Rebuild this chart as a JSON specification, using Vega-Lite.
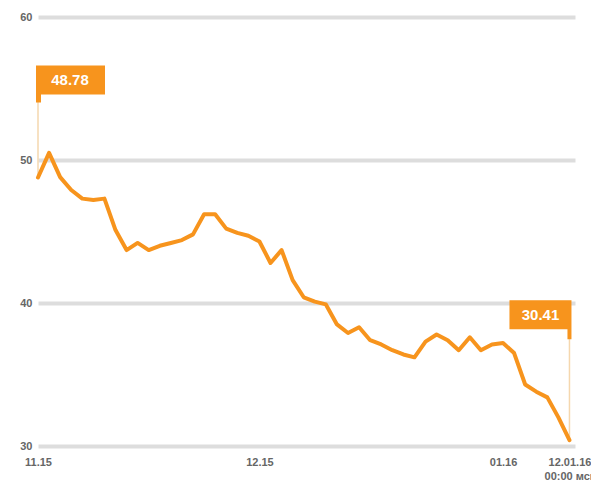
{
  "$schema": "https://vega.github.io/schema/vega-lite/v6.json",
  "width": 537,
  "height": 429,
  "autosize": "none",
  "padding": {"left": 38, "top": 17, "right": 16, "bottom": 46},
  "background": "#ffffff",
  "config": {
    "view": {"stroke": "transparent"},
    "font": "Liberation Sans",
    "axis": {
      "domain": false,
      "ticks": false,
      "labelColor": "#666666",
      "labelFontSize": 11,
      "labelFontWeight": "bold",
      "title": null
    }
  },
  "datasets": {
    "prices": [
      {"i": 0, "v": 48.78}, {"i": 1, "v": 50.5}, {"i": 2, "v": 48.8}, {"i": 3, "v": 47.9},
      {"i": 4, "v": 47.3}, {"i": 5, "v": 47.2}, {"i": 6, "v": 47.3}, {"i": 7, "v": 45.1},
      {"i": 8, "v": 43.7}, {"i": 9, "v": 44.2}, {"i": 10, "v": 43.7}, {"i": 11, "v": 44.0},
      {"i": 12, "v": 44.2}, {"i": 13, "v": 44.4}, {"i": 14, "v": 44.8}, {"i": 15, "v": 46.2},
      {"i": 16, "v": 46.2}, {"i": 17, "v": 45.2}, {"i": 18, "v": 44.9}, {"i": 19, "v": 44.7},
      {"i": 20, "v": 44.3}, {"i": 21, "v": 42.8}, {"i": 22, "v": 43.7}, {"i": 23, "v": 41.6},
      {"i": 24, "v": 40.4}, {"i": 25, "v": 40.1}, {"i": 26, "v": 39.9}, {"i": 27, "v": 38.5},
      {"i": 28, "v": 37.9}, {"i": 29, "v": 38.3}, {"i": 30, "v": 37.4}, {"i": 31, "v": 37.1},
      {"i": 32, "v": 36.7}, {"i": 33, "v": 36.4}, {"i": 34, "v": 36.2}, {"i": 35, "v": 37.3},
      {"i": 36, "v": 37.8}, {"i": 37, "v": 37.4}, {"i": 38, "v": 36.7}, {"i": 39, "v": 37.6},
      {"i": 40, "v": 36.7}, {"i": 41, "v": 37.1}, {"i": 42, "v": 37.2}, {"i": 43, "v": 36.5},
      {"i": 44, "v": 34.3}, {"i": 45, "v": 33.8}, {"i": 46, "v": 33.4}, {"i": 47, "v": 32.0},
      {"i": 48, "v": 30.41}
    ],
    "flags": [
      {"i": 0, "v": 48.78, "label": "48.78", "side": "start"},
      {"i": 48, "v": 30.41, "label": "30.41", "side": "end"}
    ]
  },
  "encoding": {
    "x": {
      "field": "i",
      "type": "quantitative",
      "scale": {"domain": [0, 48.5], "nice": false, "zero": false},
      "axis": {
        "values": [0, 20, 42, 48],
        "grid": false,
        "labelFlush": false,
        "labelOverlap": false,
        "labelBound": false,
        "labelPadding": 10,
        "labelLineHeight": 14,
        "labelExpr": "datum.value == 0 ? '11.15' : datum.value == 20 ? '12.15' : datum.value == 42 ? '01.16' : ['12.01.16', '00:00 мск']"
      }
    },
    "y": {
      "field": "v",
      "type": "quantitative",
      "scale": {"domain": [30, 60], "nice": false, "zero": false},
      "axis": {
        "values": [30, 40, 50, 60],
        "grid": true,
        "gridColor": "#dddddd",
        "gridWidth": 4,
        "labelPadding": 6
      }
    }
  },
  "layer": [
    {
      "data": {"name": "flags"},
      "transform": [{"filter": "datum.side == 'start'"}],
      "mark": {"type": "point", "shape": "M0,0V-8.3", "size": 400, "filled": false, "stroke": "#f5d7ae", "strokeWidth": 1.5, "opacity": 1}
    },
    {
      "data": {"name": "flags"},
      "transform": [{"filter": "datum.side == 'end'"}],
      "mark": {"type": "point", "shape": "M0,0V-10.1", "size": 400, "filled": false, "stroke": "#f5d7ae", "strokeWidth": 1.5, "opacity": 1}
    },
    {
      "data": {"name": "prices"},
      "mark": {"type": "line", "color": "#f7941d", "strokeWidth": 4, "strokeJoin": "round", "strokeCap": "round"}
    },
    {
      "data": {"name": "flags"},
      "transform": [{"filter": "datum.side == 'start'"}],
      "mark": {"type": "point", "shape": "M-0.2,-11.2H6.7V-8.3H0.3V-7.5H-0.2Z", "size": 400, "filled": true, "color": "#f7941d", "opacity": 1}
    },
    {
      "data": {"name": "flags"},
      "transform": [{"filter": "datum.side == 'end'"}],
      "mark": {"type": "point", "shape": "M-6,-14H0.2V-10.1H-0.2V-11.1H-6Z", "size": 400, "filled": true, "color": "#f7941d", "opacity": 1}
    },
    {
      "data": {"name": "flags"},
      "transform": [{"filter": "datum.side == 'start'"}],
      "mark": {"type": "text", "align": "center", "baseline": "middle", "dx": 32, "dy": -97, "fontSize": 15, "fontWeight": "bold", "color": "#ffffff"},
      "encoding": {"text": {"field": "label"}}
    },
    {
      "data": {"name": "flags"},
      "transform": [{"filter": "datum.side == 'end'"}],
      "mark": {"type": "text", "align": "center", "baseline": "middle", "dx": -29, "dy": -125, "fontSize": 15, "fontWeight": "bold", "color": "#ffffff"},
      "encoding": {"text": {"field": "label"}}
    }
  ]
}
